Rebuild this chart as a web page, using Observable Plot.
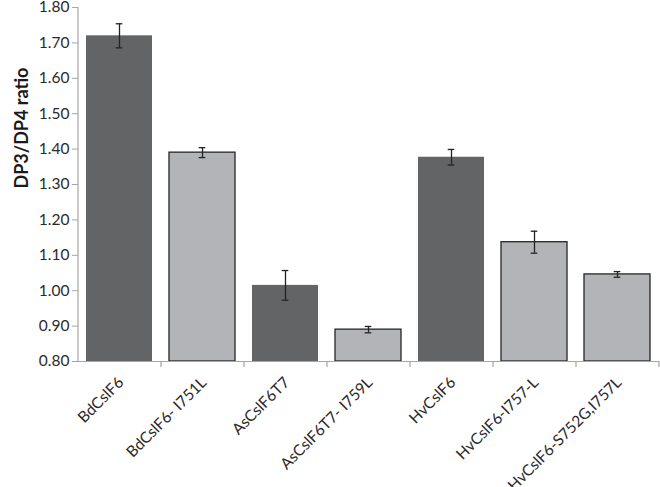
<!DOCTYPE html>
<html>
<head>
<meta charset="utf-8">
<script src="https://cdn.jsdelivr.net/npm/d3@7"></script>
<script src="https://cdn.jsdelivr.net/npm/@observablehq/plot@0.6"></script>
<style>
  html, body { margin: 0; padding: 0; background: #fff; }
  #chart { width: 660px; height: 487px; }
</style>
</head>
<body>
<div id="chart"></div>
<script>
const categories = ["BdCslF6", "BdCslF6- I751L", "AsCslF6T7", "AsCslF6T7- I759L", "HvCslF6", "HvCslF6-I757-L", "HvCslF6-S752G,I757L"];
const kinds = ["native", "mutant", "native", "mutant", "native", "mutant", "mutant"];
const values = [1.72, 1.39, 1.015, 0.89, 1.377, 1.137, 1.046];
const errors = [0.034, 0.014, 0.042, 0.009, 0.022, 0.031, 0.008];
const yTicks = [0.80, 0.90, 1.00, 1.10, 1.20, 1.30, 1.40, 1.50, 1.60, 1.70, 1.80];
const yLabel = "DP3/DP4 ratio";

const data = categories.map((c, i) => ({cat: c, kind: kinds[i], v: values[i], e: errors[i]}));
const boundaries = categories.map((c, i) => ({cat: c, i}));

const chart = Plot.plot({
  width: 660,
  height: 487,
  marginLeft: 78,
  marginRight: 1,
  marginTop: 7,
  marginBottom: 126,
  style: {fontFamily: "Lato, 'Open Sans', sans-serif", fontSize: "16px", color: "#222", background: "#fff", overflow: "visible"},
  x: {domain: categories, paddingInner: 0.2, paddingOuter: 0.1, axis: null},
  y: {domain: [0.8, 1.8], axis: null},
  color: {domain: ["native", "mutant"], range: ["#636466", "#b3b4b7"]},
  marks: [
    Plot.barY(data, {x: "cat", y1: 0.8, y2: "v", fill: "kind",
      stroke: d => d.kind === "mutant" ? "#262626" : "none", strokeWidth: 1.3}),
    Plot.ruleX(data, {x: "cat", y1: d => d.v - d.e, y2: d => d.v + d.e, stroke: "#222", strokeWidth: 1.3}),
    Plot.tickY(data, {x: "cat", y: d => d.v - d.e, stroke: "#222", strokeWidth: 1.3, insetLeft: 29.7, insetRight: 29.7}),
    Plot.tickY(data, {x: "cat", y: d => d.v + d.e, stroke: "#222", strokeWidth: 1.3, insetLeft: 29.7, insetRight: 29.7}),
    // x axis line
    Plot.ruleY([0.8], {stroke: "#a6a6a6", strokeWidth: 1.2}),
    // y axis line
    Plot.ruleX([categories[0]], {y1: 0.8, y2: 1.8, dx: -41.5, stroke: "#a6a6a6", strokeWidth: 1.2}),
    // category boundary ticks
    Plot.ruleX(boundaries.filter(d => d.i > 0), {x: "cat", y1: 0.8, y2: 0.783, dx: -41.5, stroke: "#a6a6a6", strokeWidth: 1.2}),
    Plot.ruleX([categories[categories.length - 1]], {y1: 0.8, y2: 0.783, dx: 41.5, stroke: "#a6a6a6", strokeWidth: 1.2}),
    // y axis ticks and labels
    Plot.axisY({ticks: yTicks, tickFormat: d => d.toFixed(2), tickSize: 6, tickPadding: 3, stroke: "#a6a6a6", fill: "#2a2a2a", fontSize: 15.5, label: null}),
    // x tick labels
    Plot.text(categories, {x: d => d, y: 0.8, dx: 5, dy: 22, rotate: -45, textAnchor: "end", lineAnchor: "bottom", fontSize: 15.5, fill: "#2a2a2a"}),
    // y axis title
    Plot.text([yLabel], {frameAnchor: "left", rotate: -90, dx: -56, dy: 4, fontWeight: "bold", fontSize: 18, fill: "#1a1a1a"})
  ]
});
document.getElementById("chart").appendChild(chart);
</script>
</body>
</html>
